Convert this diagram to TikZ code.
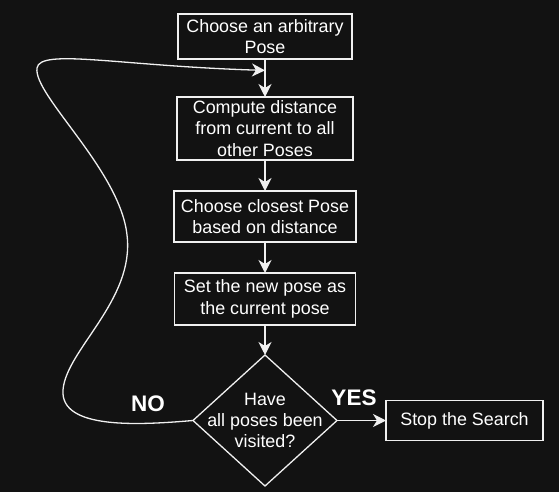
\documentclass[tikz,border=0pt]{standalone}
\usepackage{fontspec}
\setmainfont{Liberation Sans}
\usepackage{xcolor}
\usepackage{tikz}
\usetikzlibrary{positioning,arrows.meta,calc,shapes.geometric}
\definecolor{bgdark}{HTML}{121212}
\definecolor{ink}{HTML}{F0F0F0}
\tikzset{
  blk/.style    ={draw=ink, rectangle, align=center, text=white, line width=1.3pt, inner sep=2pt, outer sep=0pt, font=\fontsize{17.9}{21.3}\selectfont},
  dec/.style    ={draw=ink, diamond, inner sep=0pt, outer sep=0pt, line width=1.3pt, minimum width=144pt, minimum height=131pt},
  lbl/.style    ={text=white, font=\fontsize{22.5}{26}\selectfont\bfseries},
  arr/.style    ={-{Stealth[length=13pt, width=13pt, inset=4pt]}, draw=ink, line width=1.3pt},
}

\begin{document}
\begin{tikzpicture}[x=1pt, y=-1pt, node distance=31pt]
  \fill[bgdark] (0,0) rectangle (559,492);
  \useasboundingbox (0,0) rectangle (559,492);

  \node[blk, minimum width=174pt, minimum height=45pt] (pose) at (265,36.5) {Choose an arbitrary\\Pose};
  \node[blk, below=38pt of pose, minimum width=176pt, minimum height=63pt] (dist) {Compute distance\\from current to all\\other Poses};
  \node[blk, below=of dist, minimum width=182pt, minimum height=51pt] (closest) {Choose closest Pose\\based on distance};
  \node[blk, below=of closest, minimum width=181pt, minimum height=52pt] (newpose) {Set the new pose as\\the current pose};
  \node[dec, below=30pt of newpose, label={[align=center, text=white, font=\fontsize{17.9}{21.3}\selectfont]center:Have\\all poses been\\visited?}] (visited) {};
  \node[blk, right=49pt of visited, minimum width=157pt, minimum height=40pt] (stop) {Stop the Search};

  \coordinate (loop) at ($(pose.south)!0.3!(dist.north)$);
  \node[lbl] (no)  at ([shift={(-45,-17)}]visited.west) {NO};
  \node[lbl] (yes) at ([shift={(17,-23)}]visited.east) {YES};

  \draw[arr] (pose) -- (dist);
  \draw[arr] (dist) -- (closest);
  \draw[arr] (closest) -- (newpose);
  \draw[arr] (newpose) -- (visited);
  \draw[arr] (visited.east) -- (stop.west);
  \draw[arr] (visited.west) .. controls (140,425) and (60,430) .. (63,390)
    .. controls (66,350) and (135,300) .. (127,235)
    .. controls (120,170) and (33,95) .. (37,68)
    .. controls (40,48) and (120,66) .. (loop);
\end{tikzpicture}
\end{document}
